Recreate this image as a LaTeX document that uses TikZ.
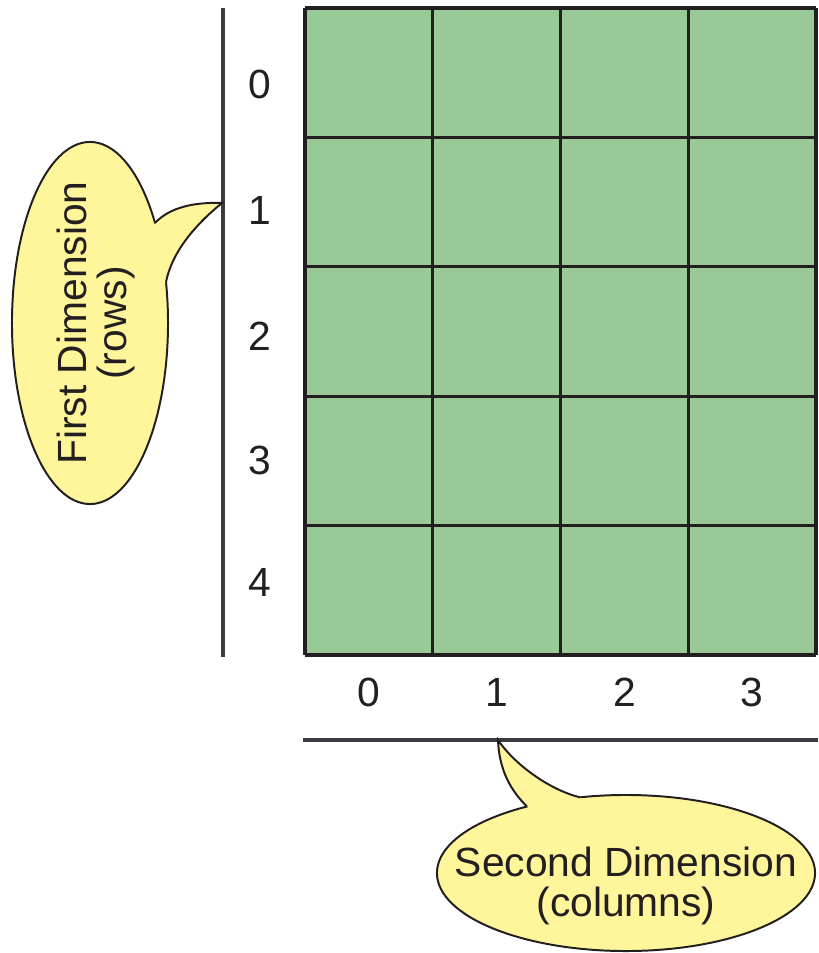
\documentclass[tikz,border=0pt]{standalone}
\usepackage{fontspec}
\setmainfont{Liberation Sans}
\usetikzlibrary{shapes.geometric,positioning}
\definecolor{cellgreen}{RGB}{152,201,150}
\definecolor{bubbleyellow}{RGB}{255,245,155}
\definecolor{inkblack}{RGB}{35,31,32}
\definecolor{axisgray}{RGB}{58,58,64}
\tikzset{
  idx/.style={font=\fontsize{29}{29}\selectfont, text=inkblack, inner sep=0pt},
  bubble/.style={ellipse, draw=inkblack, fill=bubbleyellow, line width=1.4pt, inner sep=0pt},
  bubbletext/.style={align=center, inner sep=0pt, font=\fontsize{29}{29}\selectfont, text=inkblack},
  tailline/.style={draw=inkblack, line width=1.4pt},
  gridline/.style={draw=inkblack, line width=2.2pt},
  axisline/.style={draw=axisgray, line width=2.2pt},
}
\begin{document}
\begin{tikzpicture}[x=0.025cm, y=-0.025cm]
        \useasboundingbox (0,0) rectangle (818,953);
        % Define coordinates
        \coordinate (NW) at (305,8);
        \coordinate (SE) at (816,655);
        \coordinate (rowtop) at (223,8);
        \coordinate (rowbot) at (223,657);
        \coordinate (colleft) at (303,740);
        \coordinate (colright) at (818,740);
        % Array cells
        \fill[cellgreen] (NW) rectangle (SE);
        \foreach \i in {0,...,4}
          \draw[gridline] (305+127.75*\i,8) -- (305+127.75*\i,655);
        \foreach \j in {0,...,5}
          \draw[gridline] (305,8+129.4*\j) -- (816,8+129.4*\j);
        % Index lines
        \draw[axisline] (rowtop) -- (rowbot);
        \draw[axisline] (colleft) -- (colright);
        % Index labels
        \foreach \j/\y in {0/84,1/210,2/336,3/460,4/582}
          \node[idx] (row\j) at (260,\y) {\j};
        \foreach \i in {0,...,3}
          \node[idx] (col\i) at (369+127.75*\i,692) {\i};
        % Callout for rows
        \node[bubble, minimum width=3.9cm, minimum height=9.05cm] (rowbub) at (90,323) {};
        \coordinate (rowtip) at (222,203);
        \fill[bubbleyellow] (155,223) .. controls (170,207) and (195,202) .. (rowtip)
          .. controls (195,225) and (172,252) .. (166,282) -- (rowbub.center) -- cycle;
        \draw[tailline] (155,223) .. controls (170,207) and (195,202) .. (rowtip)
          .. controls (195,225) and (172,252) .. (166,282);
        \node[bubbletext, rotate=90] (rowtext) at (96,323) {First Dimension\\(rows)};
        % Callout for columns
        \node[bubble, minimum width=9.45cm, minimum height=3.9cm] (colbub) at (626,873) {};
        \coordinate (coltip) at (498,740);
        \fill[bubbleyellow] (527,806.5) .. controls (507,787) and (499,765) .. (coltip)
          .. controls (515,765) and (550,790) .. (580,797.3) -- (colbub.center) -- cycle;
        \draw[tailline] (527,806.5) .. controls (507,787) and (499,765) .. (coltip)
          .. controls (515,765) and (550,790) .. (580,797.3);
        \node[bubbletext] (coltext) at (626,886) {Second Dimension\\(columns)};
      \end{tikzpicture}
\end{document}
